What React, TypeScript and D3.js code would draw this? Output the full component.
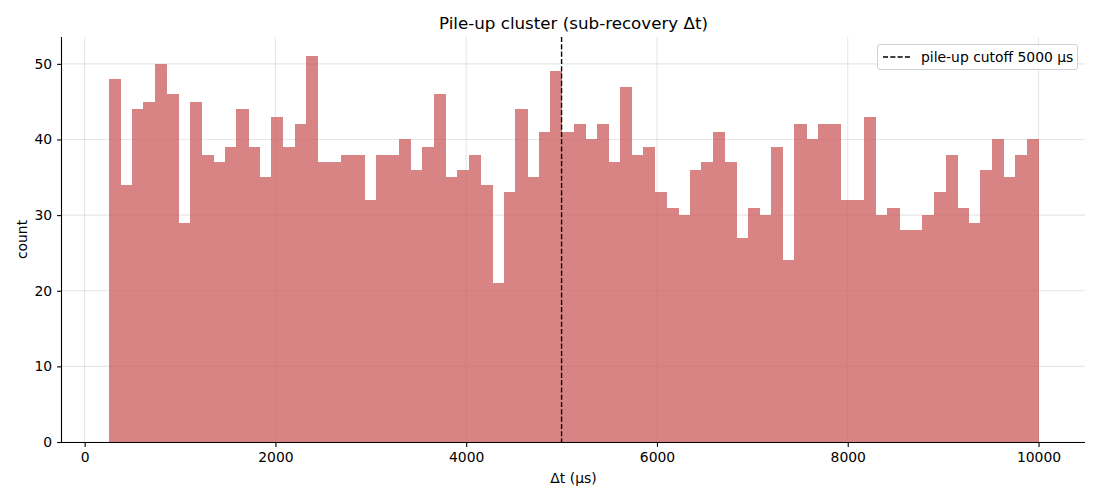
import React, { useRef, useEffect } from 'react';
import * as d3 from 'd3';

// histogram of sub-recovery Δt (µs), 80 equal bins from 250 to 10000
const binStart = 250;
const binEnd = 10000;
const counts = [
  48, 34, 44, 45, 50, 46, 29, 45, 38, 37,
  39, 44, 39, 35, 43, 39, 42, 51, 37, 37,
  38, 38, 32, 38, 38, 40, 36, 39, 46, 35,
  36, 38, 34, 21, 33, 44, 35, 41, 49, 41,
  42, 40, 42, 37, 47, 38, 39, 33, 31, 30,
  36, 37, 41, 37, 27, 31, 30, 39, 24, 42,
  40, 42, 42, 32, 32, 43, 30, 31, 28, 28,
  30, 33, 38, 31, 29, 36, 40, 35, 38, 40,
];
const cutoff = 5000;
const xTicks = [0, 2000, 4000, 6000, 8000, 10000];
const yTicks = [0, 10, 20, 30, 40, 50];

const width = 1100;
const height = 500;
const font = "'DejaVu Sans', sans-serif";
const small = '13.9px';

const App: React.FC = () => {
  const svgRef = useRef<SVGSVGElement>(null);

  useEffect(() => {
    document.body.style.margin = '0';
    if (!svgRef.current) return;
    const svg = d3.select(svgRef.current);
    svg.selectAll('*').remove();

    const margin = { top: 37, right: 15, bottom: 58, left: 62 };
    const plotW = width - margin.left - margin.right;
    const plotH = height - margin.top - margin.bottom;

    const binW = (binEnd - binStart) / counts.length;
    const bins = counts.map((c, i) => ({ x0: binStart + i * binW, x1: binStart + (i + 1) * binW, count: c }));

    // matplotlib-style 5% padding
    const pad = (binEnd - binStart) * 0.05;
    const x = d3.scaleLinear().domain([binStart - pad, binEnd + pad]).range([0, plotW]);
    const yMax = d3.max(counts) || 1;
    const y = d3.scaleLinear().domain([0, yMax * 1.05]).range([plotH, 0]);

    const g = svg.append('g').attr('transform', `translate(${margin.left},${margin.top})`);

    // grid behind bars
    g.append('g').selectAll('line.gx').data(xTicks).enter().append('line')
      .attr('x1', d => x(d)).attr('x2', d => x(d))
      .attr('y1', 0).attr('y2', plotH)
      .attr('stroke', '#b0b0b0').attr('stroke-opacity', 0.3).attr('stroke-width', 1.1);
    g.append('g').selectAll('line.gy').data(yTicks).enter().append('line')
      .attr('x1', 0).attr('x2', plotW)
      .attr('y1', d => y(d)).attr('y2', d => y(d))
      .attr('stroke', '#b0b0b0').attr('stroke-opacity', 0.3).attr('stroke-width', 1.1);

    // bars: opacity on the group so neighbouring bars don't leave seams
    g.append('g').attr('opacity', 0.75).attr('shape-rendering', 'crispEdges')
      .selectAll('rect').data(bins).enter().append('rect')
      .attr('x', d => x(d.x0))
      .attr('y', d => y(d.count))
      .attr('width', d => x(d.x1) - x(d.x0) + 0.5)
      .attr('height', d => plotH - y(d.count))
      .attr('fill', '#cd5c5c');

    // cutoff line
    g.append('line')
      .attr('x1', x(cutoff)).attr('x2', x(cutoff))
      .attr('y1', 0).attr('y2', plotH)
      .attr('stroke', '#000').attr('stroke-width', 1.39)
      .attr('stroke-dasharray', '5.1,2.2');

    // axes (left + bottom spines only)
    const xAxis = g.append('g').attr('transform', `translate(0,${plotH})`)
      .call(d3.axisBottom(x).tickValues(xTicks).tickFormat(d3.format('d')).tickSizeOuter(0).tickSize(4.9).tickPadding(4.9));
    const yAxis = g.append('g')
      .call(d3.axisLeft(y).tickValues(yTicks).tickFormat(d3.format('d')).tickSizeOuter(0).tickSize(4.9).tickPadding(4.9));
    [xAxis, yAxis].forEach(a => {
      a.selectAll('text').style('font-family', font).style('font-size', small).attr('fill', '#000');
      a.selectAll('line').attr('stroke', '#000').attr('stroke-width', 1.1);
      a.select('.domain').attr('stroke', '#000').attr('stroke-width', 1.1);
    });
    xAxis.select('.domain').attr('d', `M0,0.5H${plotW}`);
    yAxis.select('.domain').attr('d', `M-0.5,0V${plotH}`);

    // labels
    svg.append('text')
      .attr('x', margin.left + plotW / 2).attr('y', 29)
      .attr('text-anchor', 'middle')
      .style('font-family', font).style('font-size', '16.7px')
      .text('Pile-up cluster (sub-recovery Δt)');
    svg.append('text')
      .attr('x', margin.left + plotW / 2).attr('y', 483)
      .attr('text-anchor', 'middle')
      .style('font-family', font).style('font-size', small)
      .text('Δt (µs)');
    svg.append('text')
      .attr('transform', `translate(27,${margin.top + plotH / 2}) rotate(-90)`)
      .attr('text-anchor', 'middle')
      .style('font-family', font).style('font-size', small)
      .text('count');

    // legend
    const legend = svg.append('g').attr('transform', `translate(877,44)`);
    legend.append('rect')
      .attr('x', 0.5).attr('y', 0.5).attr('width', 200).attr('height', 25).attr('rx', 2.5)
      .attr('fill', '#fff').attr('fill-opacity', 0.8)
      .attr('stroke', '#d0d0d0').attr('stroke-width', 1);
    legend.append('line')
      .attr('x1', 6).attr('x2', 34).attr('y1', 13).attr('y2', 13)
      .attr('stroke', '#000').attr('stroke-width', 1.39).attr('stroke-dasharray', '5.1,2.2');
    legend.append('text')
      .attr('x', 44).attr('y', 17.8)
      .style('font-family', font).style('font-size', small)
      .text(`pile-up cutoff ${cutoff} µs`);
  }, []);

  return <svg ref={svgRef} width={width} height={height} style={{ display: 'block' }} />;
};

export default App;
